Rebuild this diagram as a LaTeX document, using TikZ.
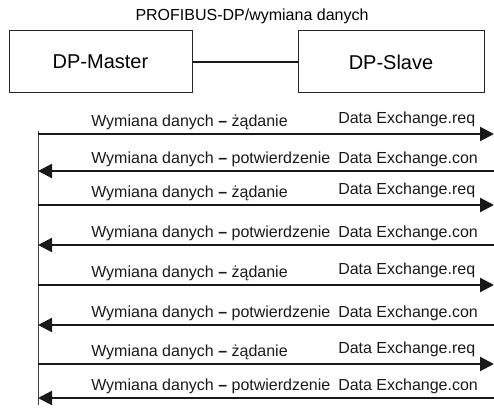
\documentclass[tikz,border=0pt]{standalone}
\usepackage{fontspec}
\setmainfont{Liberation Sans}
\usetikzlibrary{arrows.meta}
\begin{document}
\begin{tikzpicture}[x=0.75pt,y=-0.75pt,
  box/.style={draw=black!85, line width=0.75pt, minimum height=46.5pt, inner sep=0pt, font=\fontsize{15}{18}\selectfont},
  lbl/.style={anchor=base west, inner sep=0pt, font=\fontsize{12}{14}\selectfont, text=black!90},
  msg/.style={line width=1.6pt, draw=black!90},
  tipR/.style={-{Triangle[length=10.5pt,width=10.5pt]}},
  lifeline/.style={line width=0.75pt, draw=black!75}]
\useasboundingbox (0,0) rectangle (494,409);
\node[font=\fontsize{12}{14}\selectfont, inner sep=0pt] (title) at (252,16) {PROFIBUS-DP/wymiana danych};
\node[box, minimum width=137.25pt] (master) at (100.5,62) {DP-Master};
\node[box, minimum width=139.5pt] (slave) at (391,62) {DP-Slave};
\draw[line width=2pt, draw=black!90] (master) -- (slave);
\coordinate (top) at (38,131);
\coordinate (bot) at (38,405);
\draw[lifeline] (top) -- (bot);
\foreach \i/\y/\kind in {1/134/req,2/171/con,3/205/req,4/245/con,5/285/req,6/325/con,7/364/req,8/398/con}{
  \coordinate (L\i) at (38,\y);
  \coordinate (R\i) at (494,\y);
}
\foreach \i in {1,3,5,7}{
  \draw[msg, tipR] (L\i) -- (R\i);
  \node[lbl] (w\i) at ([yshift=5.25pt]L\i -| 91,0) {Wymiana danych \textbf{–} żądanie};
  \node[lbl] (d\i) at ([yshift=7.5pt]L\i -| 338,0) {Data Exchange.req};
}
\foreach \i in {2,4,6,8}{
  \draw[msg, tipR] (R\i) -- (L\i);
  \node[lbl] (w\i) at ([yshift=5.25pt]L\i -| 91,0) {Wymiana danych \textbf{–} potwierdzenie};
  \node[lbl] (d\i) at ([yshift=5.25pt]L\i -| 338,0) {Data Exchange.con};
}
\end{tikzpicture}
\end{document}
